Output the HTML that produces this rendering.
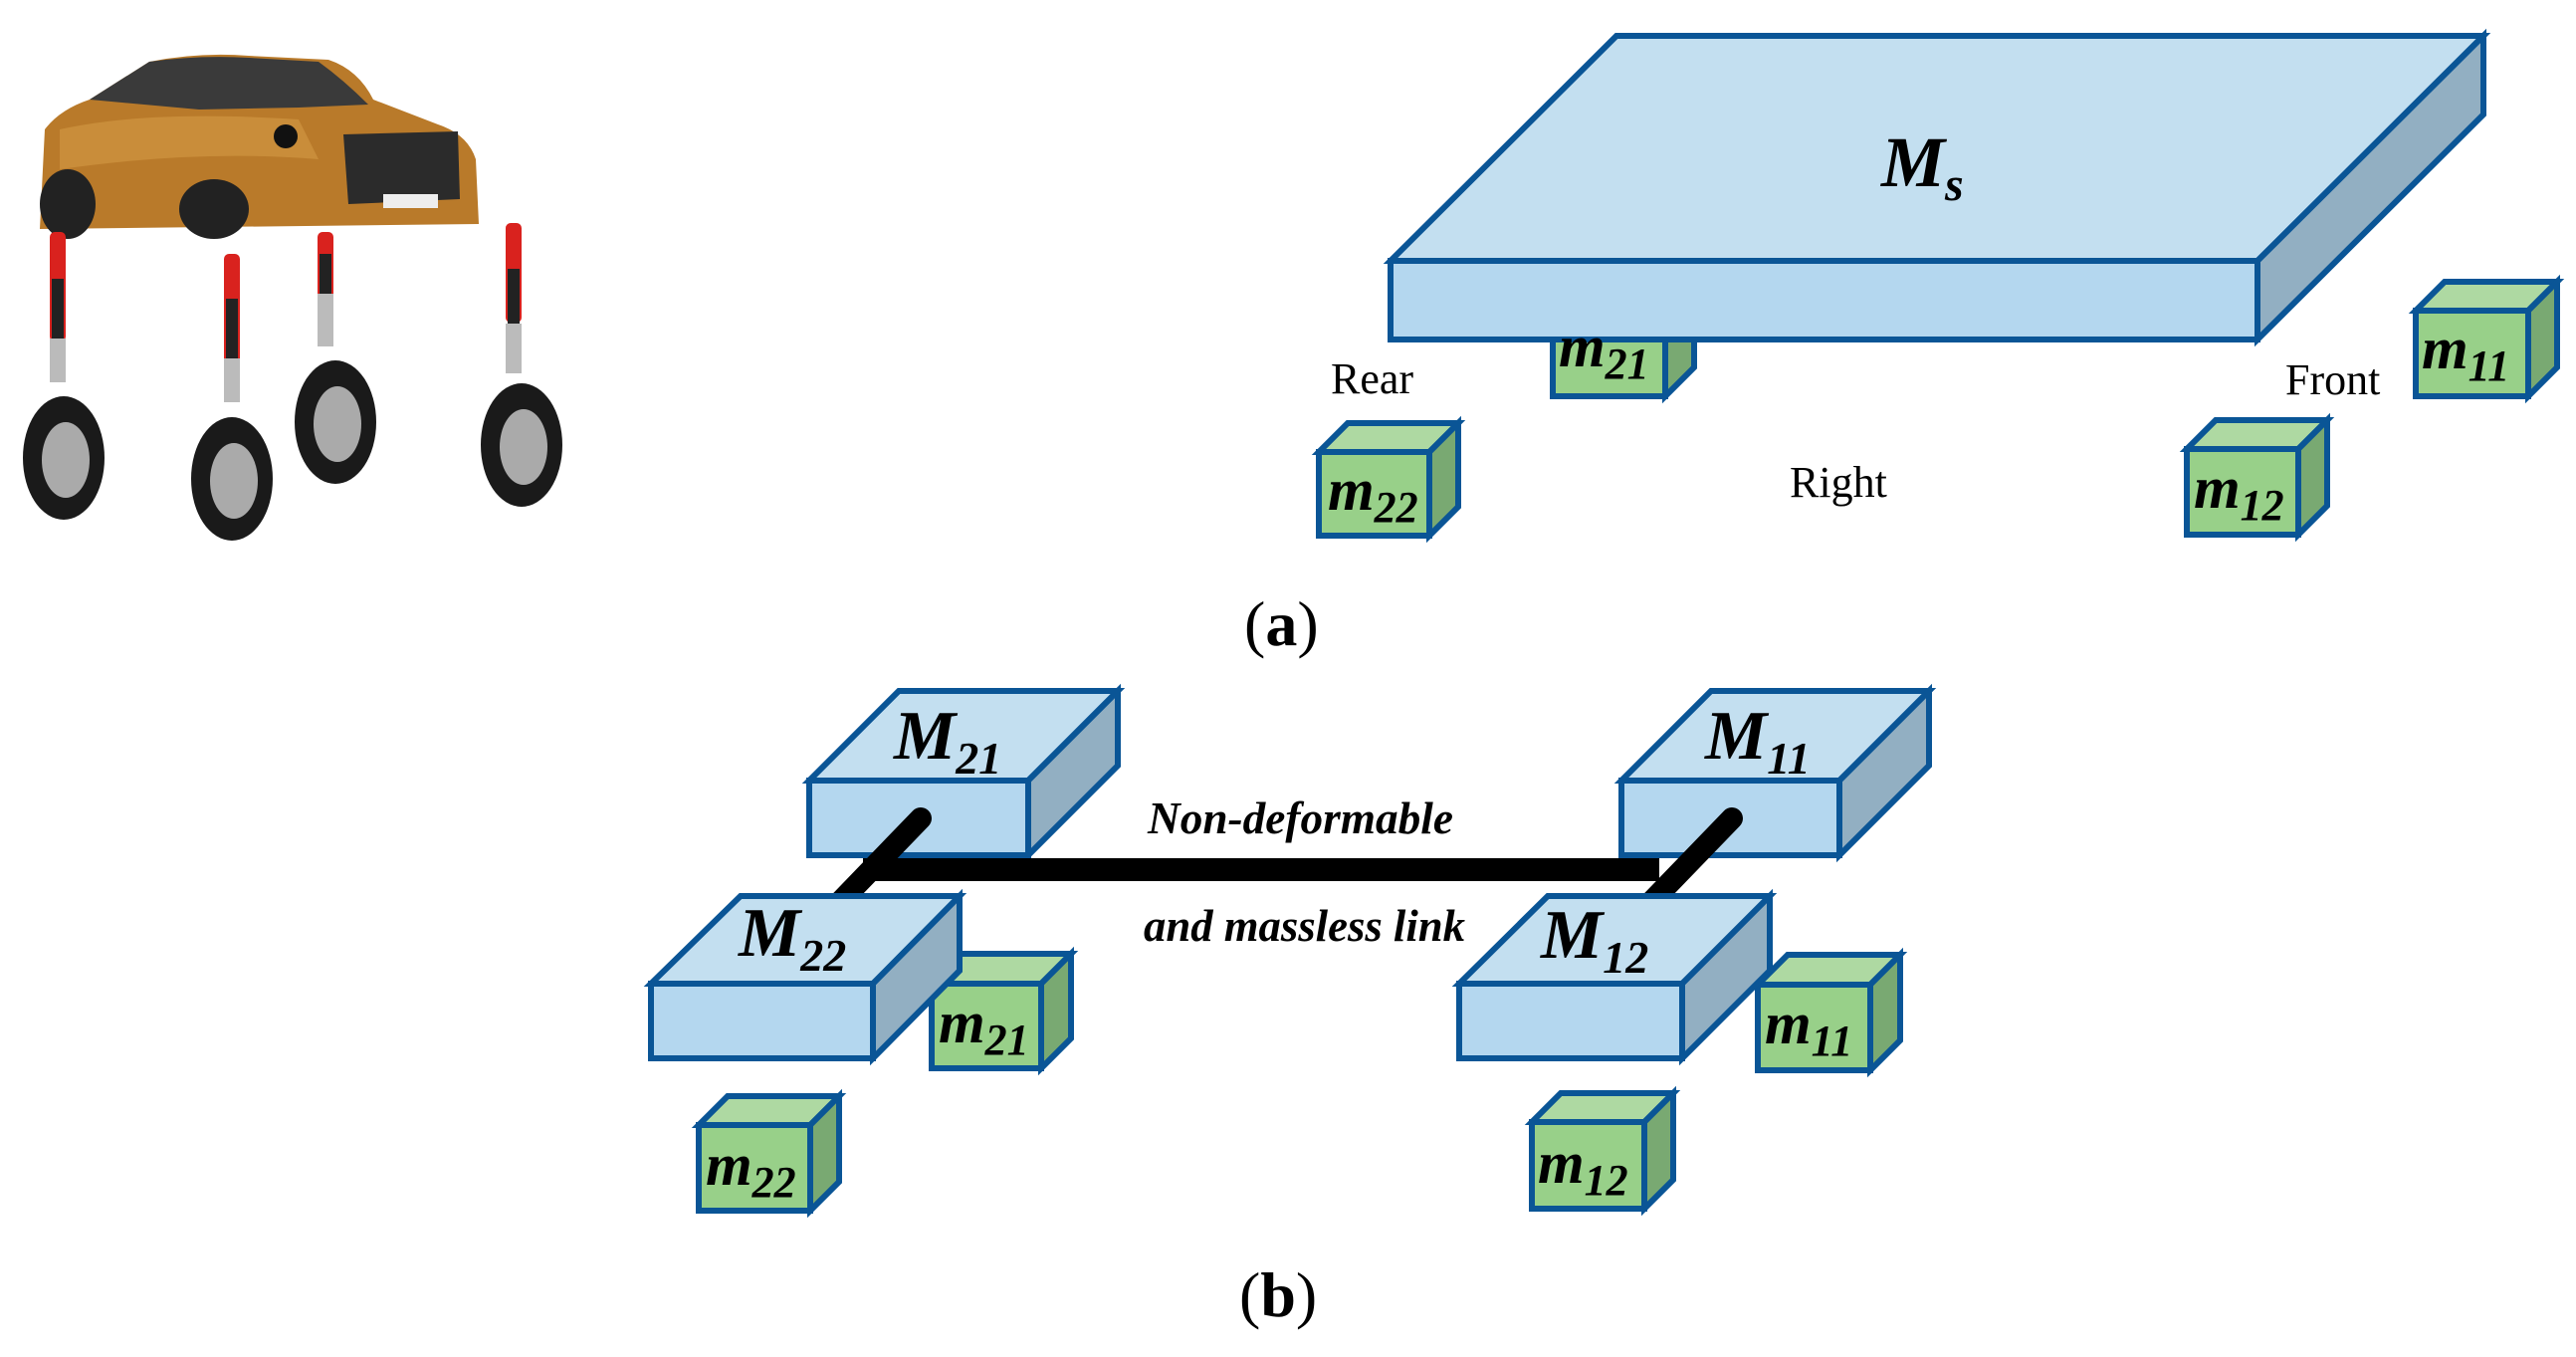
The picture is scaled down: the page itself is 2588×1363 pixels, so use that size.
<!DOCTYPE html>
<html><head><meta charset="utf-8"><style>
html,body{margin:0;padding:0;background:#fff;}
svg{display:block;}
.lb{font-family:"Liberation Serif",serif;font-weight:bold;font-style:italic;fill:#000;}
.rg{font-family:"Liberation Serif",serif;fill:#000;}
</style></head><body>
<svg width="2588" height="1363" viewBox="0 0 2588 1363" xmlns="http://www.w3.org/2000/svg">
<g stroke="#0a5596" stroke-width="6" stroke-linejoin="miter">
<polygon points="1673,312 1702,283 1702,369 1673,398" fill="#79a972"/>
<rect x="1560" y="312" width="113" height="86" fill="#98d089"/>
<polygon points="1397,262 1624,36 2495,36 2268,262" fill="#c3dff0"/>
<polygon points="2268,262 2495,36 2495,115 2268,341" fill="#92afc2"/>
<rect x="1397" y="262" width="871" height="79" fill="#b4d7ef"/>
<polygon points="2427,312 2456,283 2569,283 2540,312" fill="#aed9a2"/>
<polygon points="2540,312 2569,283 2569,369 2540,398" fill="#79a972"/>
<rect x="2427" y="312" width="113" height="86" fill="#98d089"/>
<polygon points="1325,454 1354,425 1465,425 1436,454" fill="#aed9a2"/>
<polygon points="1436,454 1465,425 1465,509 1436,538" fill="#79a972"/>
<rect x="1325" y="454" width="111" height="84" fill="#98d089"/>
<polygon points="2197,451 2226,422 2338,422 2309,451" fill="#aed9a2"/>
<polygon points="2309,451 2338,422 2338,508 2309,537" fill="#79a972"/>
<rect x="2197" y="451" width="112" height="86" fill="#98d089"/>

<polygon points="813,784 903,694 1123,694 1033,784" fill="#c3dff0"/>
<polygon points="1033,784 1123,694 1123,769 1033,859" fill="#92afc2"/>
<rect x="813" y="784" width="220" height="75" fill="#b4d7ef"/>
<polygon points="1629,784 1719,694 1938,694 1848,784" fill="#c3dff0"/>
<polygon points="1848,784 1938,694 1938,769 1848,859" fill="#92afc2"/>
<rect x="1629" y="784" width="219" height="75" fill="#b4d7ef"/>
</g>
<g stroke="#000" stroke-width="22" fill="none">
<line x1="925" y1="822" x2="840" y2="910" stroke-linecap="round"/>
<line x1="1740" y1="822" x2="1655" y2="910" stroke-linecap="round"/>
</g>
<rect x="867" y="862" width="800" height="23" fill="#000"/>
<g stroke="#0a5596" stroke-width="6">
<polygon points="936,988 966,958 1076,958 1046,988" fill="#aed9a2"/>
<polygon points="1046,988 1076,958 1076,1043 1046,1073" fill="#79a972"/>
<rect x="936" y="988" width="110" height="85" fill="#98d089"/>
<polygon points="654,988 744,900 964,900 877,988" fill="#c3dff0"/>
<polygon points="877,988 964,900 964,975 877,1063" fill="#92afc2"/>
<rect x="654" y="988" width="223" height="75" fill="#b4d7ef"/>
<polygon points="1766,989 1796,959 1909,959 1879,989" fill="#aed9a2"/>
<polygon points="1879,989 1909,959 1909,1045 1879,1075" fill="#79a972"/>
<rect x="1766" y="989" width="113" height="86" fill="#98d089"/>
<polygon points="1466,988 1555,900 1778,900 1690,988" fill="#c3dff0"/>
<polygon points="1690,988 1778,900 1778,975 1690,1063" fill="#92afc2"/>
<rect x="1466" y="988" width="224" height="75" fill="#b4d7ef"/>
<polygon points="702,1130 731,1101 843,1101 814,1130" fill="#aed9a2"/>
<polygon points="814,1130 843,1101 843,1187 814,1216" fill="#79a972"/>
<rect x="702" y="1130" width="112" height="86" fill="#98d089"/>
<polygon points="1539,1127 1568,1098 1681,1098 1652,1127" fill="#aed9a2"/>
<polygon points="1652,1127 1681,1098 1681,1185 1652,1214" fill="#79a972"/>
<rect x="1539" y="1127" width="113" height="87" fill="#98d089"/>
</g>

<text class="lb" x="1890" y="187" font-size="72">M<tspan font-size="48" dy="14">s</tspan></text>
<text class="lb" font-size="60" x="1566" y="368">m<tspan font-size="44" dy="12">21</tspan></text>
<text class="lb" font-size="60" x="2433" y="370">m<tspan font-size="44" dy="12">11</tspan></text>
<text class="lb" font-size="60" x="1334" y="512">m<tspan font-size="44" dy="12">22</tspan></text>
<text class="lb" font-size="60" x="2204" y="510">m<tspan font-size="44" dy="12">12</tspan></text>
<text class="rg" font-size="44" x="1337" y="395">Rear</text>
<text class="rg" font-size="44" x="2296" y="396">Front</text>
<text class="rg" font-size="44" x="1798" y="499">Right</text>
<text class="rg" font-size="64" x="1250" y="648">(<tspan font-weight="bold">a</tspan>)</text>

<text class="lb" font-size="70" x="898" y="762">M<tspan font-size="46" dy="15">21</tspan></text>
<text class="lb" font-size="70" x="1713" y="762">M<tspan font-size="46" dy="15">11</tspan></text>
<text class="lb" font-size="70" x="742" y="960">M<tspan font-size="46" dy="15">22</tspan></text>
<text class="lb" font-size="70" x="1548" y="962">M<tspan font-size="46" dy="15">12</tspan></text>
<text class="lb" font-size="60" x="943" y="1047">m<tspan font-size="44" dy="12">21</tspan></text>
<text class="lb" font-size="60" x="1773" y="1048">m<tspan font-size="44" dy="12">11</tspan></text>
<text class="lb" font-size="60" x="709" y="1190">m<tspan font-size="44" dy="12">22</tspan></text>
<text class="lb" font-size="60" x="1545" y="1188">m<tspan font-size="44" dy="12">12</tspan></text>
<text class="lb" font-size="46" x="1153" y="837" textLength="307" lengthAdjust="spacingAndGlyphs">Non-deformable</text>
<text class="lb" font-size="46" x="1149" y="945" textLength="323" lengthAdjust="spacingAndGlyphs">and massless link</text>
<text class="rg" font-size="64" x="1245" y="1322">(<tspan font-weight="bold">b</tspan>)</text>

<g>
<path d="M40,230 L45,130 Q60,110 90,100 L150,62 Q200,52 250,56 L330,60 Q360,70 375,100 L440,125 Q470,135 478,160 L481,225 L40,230 Z" fill="#b97a2a"/>
<path d="M60,130 Q150,110 300,120 L320,160 Q200,150 60,170 Z" fill="#c98d3a"/>
<path d="M90,100 L150,62 Q200,55 250,58 L320,62 Q345,80 370,105 L300,108 L200,110 Z" fill="#3a3a3a"/>
<path d="M345,135 L460,132 L462,200 L350,205 Z" fill="#2b2b2b"/>
<rect x="385" y="195" width="55" height="14" fill="#eee"/>
<ellipse cx="68" cy="205" rx="28" ry="35" fill="#222"/>
<ellipse cx="215" cy="210" rx="35" ry="30" fill="#222"/>
<circle cx="287" cy="137" r="12" fill="#111"/>
</g>
<g>
<rect x="50" y="233" width="16" height="110" rx="5" fill="#d9221e"/>
<rect x="52" y="280" width="12" height="60" fill="#222"/>
<rect x="50" y="340" width="16" height="44" fill="#bbb"/>
<rect x="225" y="255" width="16" height="110" rx="5" fill="#d9221e"/>
<rect x="227" y="300" width="12" height="60" fill="#222"/>
<rect x="225" y="360" width="16" height="44" fill="#bbb"/>
<rect x="319" y="233" width="16" height="80" rx="5" fill="#d9221e"/>
<rect x="321" y="255" width="12" height="40" fill="#222"/>
<rect x="319" y="295" width="16" height="53" fill="#bbb"/>
<rect x="508" y="224" width="16" height="100" rx="5" fill="#d9221e"/>
<rect x="510" y="270" width="12" height="55" fill="#222"/>
<rect x="508" y="325" width="16" height="50" fill="#bbb"/>
</g>
<g>
<ellipse cx="64" cy="460" rx="41" ry="62" fill="#1a1a1a"/><ellipse cx="66" cy="462" rx="24" ry="38" fill="#aaa"/>
<ellipse cx="233" cy="481" rx="41" ry="62" fill="#1a1a1a"/><ellipse cx="235" cy="483" rx="24" ry="38" fill="#aaa"/>
<ellipse cx="337" cy="424" rx="41" ry="62" fill="#1a1a1a"/><ellipse cx="339" cy="426" rx="24" ry="38" fill="#aaa"/>
<ellipse cx="524" cy="447" rx="41" ry="62" fill="#1a1a1a"/><ellipse cx="526" cy="449" rx="24" ry="38" fill="#aaa"/>
</g>
</svg>
</body></html>
